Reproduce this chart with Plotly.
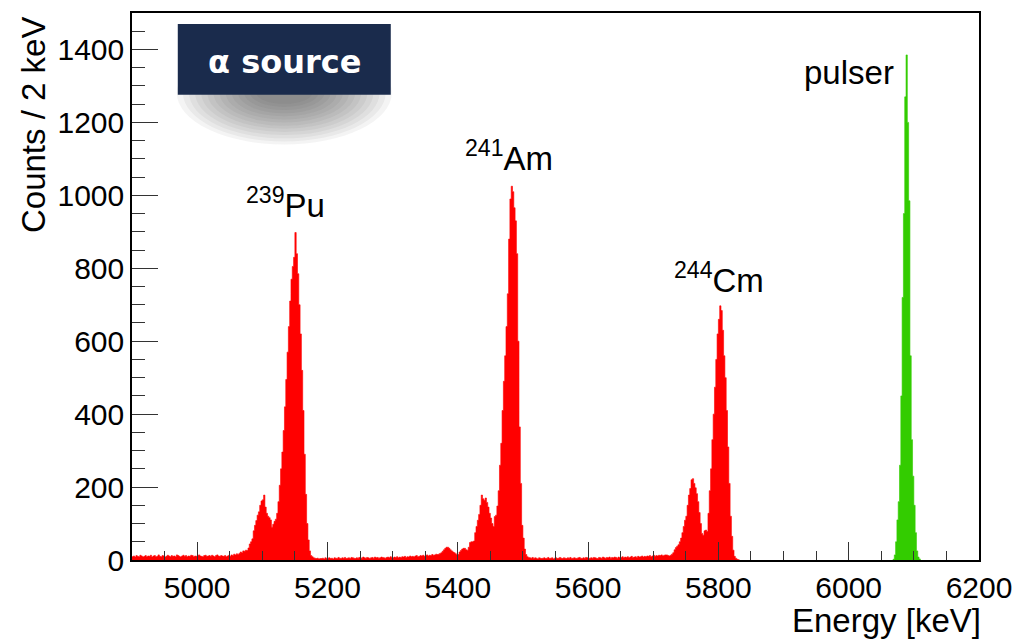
import plotly.graph_objects as go

# ---------------- data (2 keV bins) ----------------
bin_width_keV = 2
first_edge_keV = 4900

bg_4900_5040 = [9, 11, 8, 12, 10, 9, 13, 11, 8, 10, 12, 9, 11, 10, 13, 8, 11, 12, 9, 10,
                14, 10, 9, 12, 11, 8, 10, 13, 11, 9, 12, 10, 11, 9, 14, 12, 10, 8, 11, 13,
                10, 12, 9, 11, 10, 13, 12, 9, 11, 10, 12, 14, 11, 10, 9, 12, 13, 10, 11, 12,
                10, 13, 11, 9, 12, 14, 11, 10, 12, 11]
pu239_5040_5190 = [10, 12, 9, 11, 13, 10, 14, 12, 16, 14,
                   17, 15, 18, 22, 20, 25, 24, 27, 26, 33,
                   44, 50, 58, 80, 95, 108, 123, 132, 150, 162,
                   165, 178, 145, 128, 120, 116, 110, 90, 98, 106,
                   112, 128, 160, 205, 250, 296, 355, 420, 495, 570,
                   640, 710, 770, 805, 830, 898, 840, 785, 700, 620,
                   520, 410, 290, 180, 100, 55, 25, 12, 9, 6,
                   5, 4, 5, 3, 4]
bg_5190_5370 = [4, 5, 3, 6, 4, 5, 6, 4, 5, 3, 6, 5, 4, 7, 5, 4, 6, 5, 7, 4,
                5, 6, 4, 7, 6, 5, 4, 6, 5, 7, 6, 5, 8, 6, 5, 7, 6, 4, 6, 7,
                5, 8, 6, 7, 5, 6, 8, 7, 6, 5, 7, 8, 6, 9, 7, 6, 8, 7, 9, 6,
                8, 7, 9, 8, 10, 7, 9, 8, 11, 9, 10, 8, 11, 12, 9, 10, 12, 11, 13, 10,
                12, 14, 11, 13, 12, 15, 13, 14, 16, 15]
am241_5370_5510 = [16, 18, 20, 24, 28, 32, 35, 35, 32, 28,
                   25, 22, 20, 17, 14, 15, 22, 26, 30, 32,
                   32, 28, 27, 35, 48, 50, 50, 52, 75, 92,
                   109, 125, 150, 178, 168, 164, 170, 158, 145, 128,
                   115, 100, 92, 119, 123, 148, 190, 260, 320, 410,
                   490, 560, 640, 730, 880, 990, 1025, 1010, 966, 930,
                   840, 600, 365, 210, 95, 60, 30, 15, 9, 7]
bg_5510_5720 = [6, 5, 7, 4, 6, 5, 3, 6, 5, 4, 5, 6, 4, 5, 7, 4, 5, 6, 3, 5,
                6, 4, 5, 7, 5, 4, 6, 5, 4, 6, 5, 7, 4, 5, 6, 5, 4, 6, 7, 5,
                4, 6, 5, 7, 6, 4, 5, 6, 5, 7, 6, 5, 4, 7, 6, 5, 8, 6, 5, 7,
                6, 8, 5, 7, 6, 8, 7, 5, 8, 6, 7, 9, 6, 8, 7, 9, 6, 8, 10, 7,
                8, 9, 7, 10, 8, 9, 11, 8, 10, 9, 11, 10, 12, 9, 11, 13, 10, 12, 11, 13,
                12, 14, 11, 13, 14]
cm244_5720_5832 = [14, 12, 11, 13, 16, 20, 28, 34, 38, 42,
                   50, 60, 75, 92, 109, 120, 150, 178, 196, 220,
                   223, 210, 198, 182, 160, 130, 100, 73, 68, 80,
                   82, 78, 128, 190, 250, 330, 400, 474, 550, 620,
                   660, 697, 684, 630, 560, 500, 410, 310, 210, 120,
                   65, 27, 10, 5, 2, 1]

pulser_first_edge_keV = 6068
pulser_counts = [2, 14, 50, 110, 160, 260, 450, 720, 950, 1270, 1385,
                 1200, 985, 560, 330, 230, 150, 75, 25, 8, 3]

x_tick_values = [5000, 5200, 5400, 5600, 5800, 6000, 6200]
y_tick_values = [0, 200, 400, 600, 800, 1000, 1200, 1400]

peak_labels = ["<sup>239</sup>Pu", "<sup>241</sup>Am", "<sup>244</sup>Cm", "pulser"]
peak_label_x = [5135, 5478, 5801, 6000]
peak_label_y = [980, 1108, 774, 1336]

alpha_counts = (bg_4900_5040 + pu239_5040_5190 + bg_5190_5370 + am241_5370_5510
                + bg_5510_5720 + cm244_5720_5832)


def step_xy(first_edge, counts, width):
    xs = [first_edge + width * i for i in range(len(counts) + 1)]
    ys = list(counts) + [counts[-1]]
    xs = [xs[0]] + xs + [xs[-1]]
    ys = [0] + ys[:-1] + [ys[-1], 0]
    return xs, ys


ax, ay = step_xy(first_edge_keV, alpha_counts, bin_width_keV)
px, py = step_xy(pulser_first_edge_keV, pulser_counts, bin_width_keV)

fig = go.Figure()
fig.add_trace(go.Scatter(x=ax, y=ay, mode="lines", line=dict(color="#ff0000", width=0.6, shape="hv"),
                         fill="tozeroy", fillcolor="#ff0000", hoverinfo="skip", showlegend=False))
fig.add_trace(go.Scatter(x=px, y=py, mode="lines", line=dict(color="#33cc00", width=0.6, shape="hv"),
                         fill="tozeroy", fillcolor="#33cc00", hoverinfo="skip", showlegend=False))

# ---------------- layout ----------------
L, R, T, B = 132, 40, 11, 80
W, H = 1023, 640
PW, PH = W - L - R, H - T - B


def pxx(p):
    return (p - L) / PW


def pxy(p):
    return (T + PH - p) / PH


axis_font = dict(family="Liberation Sans, Arial, sans-serif", size=30, color="black")

fig.update_layout(
    width=W, height=H,
    margin=dict(l=L, r=R, t=T, b=B),
    paper_bgcolor="white", plot_bgcolor="white",
    showlegend=False,
    xaxis=dict(range=[4900, 6200], tickvals=x_tick_values, ticks="inside", ticklen=18, tickwidth=1.2,
               tickcolor="#333", showgrid=False, zeroline=False, showline=True, linecolor="black",
               linewidth=1.5, mirror=True, tickfont=axis_font,
               minor=dict(dtick=50, tick0=4900, ticks="inside", ticklen=9, tickwidth=1.2, tickcolor="#333",
                          showgrid=False)),
    yaxis=dict(range=[0, 1500], tickvals=y_tick_values, ticks="inside", ticklen=26, tickwidth=1.2,
               tickcolor="#333", showgrid=False, zeroline=False, showline=True, linecolor="black",
               linewidth=1.5, mirror=True, tickfont=axis_font,
               minor=dict(dtick=50, tick0=0, ticks="inside", ticklen=13, tickwidth=1.2, tickcolor="#333",
                          showgrid=False)),
)

title_font = dict(family="Liberation Sans, Arial, sans-serif", size=33, color="black")
annotations = [
    dict(text="Energy [keV]", xref="paper", yref="paper", x=pxx(987), y=pxy(621), xanchor="right",
         yanchor="middle", showarrow=False, font=title_font),
    dict(text="Counts / 2 keV", xref="paper", yref="paper", x=pxx(33), y=pxy(123), xanchor="center",
         yanchor="middle", textangle=-90, showarrow=False, font=title_font),
    dict(text="<b>α source</b>", xref="paper", yref="paper", x=pxx(285), y=pxy(60), xanchor="center",
         yanchor="middle", showarrow=False,
         font=dict(family="DejaVu Sans, sans-serif", size=32, color="white")),
]
label_font = dict(family="Liberation Sans, Arial, sans-serif", size=33, color="black")
for t, x, y in zip(peak_labels, peak_label_x, peak_label_y):
    annotations.append(dict(text=t, x=x, y=y, xref="x", yref="y", xanchor="center", yanchor="middle",
                            showarrow=False, font=label_font))

shapes = []
# soft drop shadow under the label box
n_layers = 14
for k in range(n_layers):
    f = 1 - k / n_layers
    rx, ry = 22 + 86 * f, 8 + 44 * f
    shapes.append(dict(type="circle", xref="paper", yref="paper", x0=pxx(285 - rx), x1=pxx(285 + rx),
                       y0=pxy(91 + ry), y1=pxy(91 - ry), fillcolor="#303030", opacity=0.055,
                       line=dict(width=0), layer="above"))
shapes.append(dict(type="rect", xref="paper", yref="paper", x0=pxx(178), x1=pxx(392), y0=pxy(93), y1=pxy(22),
                   fillcolor="#1a2b4c", line=dict(width=0), layer="above"))
fig.update_layout(annotations=annotations, shapes=shapes)

fig.write_html("out.html")
